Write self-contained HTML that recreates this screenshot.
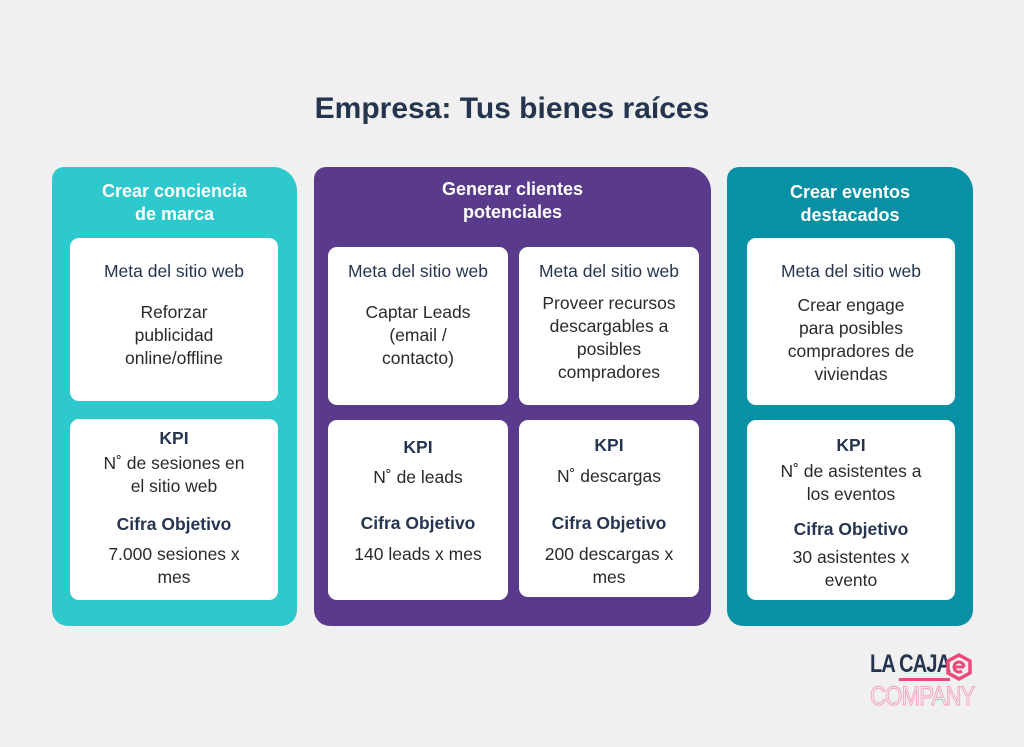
<!DOCTYPE html>
<html><head><meta charset="utf-8"><style>
*{margin:0;padding:0;box-sizing:border-box}
body{width:1024px;height:747px;background:#f0f0f0;position:relative;overflow:hidden;font-family:"Liberation Sans",sans-serif;color:#253550}
.p{position:absolute;top:167px;height:459px;border-radius:12px 24px 16px 16px}
.b{position:absolute;background:#fff;border-radius:9px}
.t{position:absolute;text-align:center;font-size:17.5px;line-height:23px;color:#2a2a2a;white-space:nowrap}
.h{font-weight:bold;color:#253550}
.w{color:#fff;font-weight:bold;font-size:18px}
</style></head><body>
<div class="t h" style="left:0;width:1024px;top:90px;font-size:30px;line-height:38px">Empresa: Tus bienes raíces</div>

<div class="p" style="left:52px;width:245px;background:#2ec9cc"></div>
<div class="p" style="left:314px;width:397px;background:#5a3a8b"></div>
<div class="p" style="left:727px;width:246px;background:#0891a4"></div>

<div class="t w" style="left:52px;width:245px;top:180px">Crear conciencia<br>de marca</div>
<div class="t w" style="left:314px;width:397px;top:178px">Generar clientes<br>potenciales</div>
<div class="t w" style="left:727px;width:246px;top:181px">Crear eventos<br>destacados</div>

<div class="b" style="left:70px;top:238px;width:208px;height:163px"></div>
<div class="b" style="left:70px;top:419px;width:208px;height:181px"></div>
<div class="b" style="left:328px;top:247px;width:180px;height:158px"></div>
<div class="b" style="left:519px;top:247px;width:180px;height:158px"></div>
<div class="b" style="left:328px;top:420px;width:180px;height:180px"></div>
<div class="b" style="left:519px;top:420px;width:180px;height:177px"></div>
<div class="b" style="left:747px;top:238px;width:208px;height:167px"></div>
<div class="b" style="left:747px;top:420px;width:208px;height:180px"></div>

<div class="t h" style="left:70px;width:208px;top:260px;font-weight:normal">Meta del sitio web</div>
<div class="t" style="left:70px;width:208px;top:301px">Reforzar<br>publicidad<br>online/offline</div>
<div class="t h" style="left:70px;width:208px;top:427px">KPI</div>
<div class="t" style="left:70px;width:208px;top:452px">N˚ de sesiones en<br>el sitio web</div>
<div class="t h" style="left:70px;width:208px;top:513px">Cifra Objetivo</div>
<div class="t" style="left:70px;width:208px;top:543px">7.000 sesiones x<br>mes</div>

<div class="t h" style="left:328px;width:180px;top:260px;font-weight:normal">Meta del sitio web</div>
<div class="t" style="left:328px;width:180px;top:301px">Captar Leads<br>(email /<br>contacto)</div>
<div class="t h" style="left:328px;width:180px;top:436px">KPI</div>
<div class="t" style="left:328px;width:180px;top:466px">N˚ de leads</div>
<div class="t h" style="left:328px;width:180px;top:512px">Cifra Objetivo</div>
<div class="t" style="left:328px;width:180px;top:543px">140 leads x mes</div>

<div class="t h" style="left:519px;width:180px;top:260px;font-weight:normal">Meta del sitio web</div>
<div class="t" style="left:519px;width:180px;top:292px">Proveer recursos<br>descargables a<br>posibles<br>compradores</div>
<div class="t h" style="left:519px;width:180px;top:434px">KPI</div>
<div class="t" style="left:519px;width:180px;top:465px">N˚ descargas</div>
<div class="t h" style="left:519px;width:180px;top:512px">Cifra Objetivo</div>
<div class="t" style="left:519px;width:180px;top:543px">200 descargas x<br>mes</div>

<div class="t h" style="left:747px;width:208px;top:260px;font-weight:normal">Meta del sitio web</div>
<div class="t" style="left:747px;width:208px;top:294px">Crear engage<br>para posibles<br>compradores de<br>viviendas</div>
<div class="t h" style="left:747px;width:208px;top:434px">KPI</div>
<div class="t" style="left:747px;width:208px;top:460px">N˚ de asistentes a<br>los eventos</div>
<div class="t h" style="left:747px;width:208px;top:518px">Cifra Objetivo</div>
<div class="t" style="left:747px;width:208px;top:546px">30 asistentes x<br>evento</div>

<div style="position:absolute;left:870px;top:651px;font-weight:bold;font-size:25px;line-height:26px;color:#253550;letter-spacing:-1px;transform:scaleX(0.8);transform-origin:left">LA <span style="border-bottom:3px solid #ec4a7a">CAJA</span></div>
<svg style="position:absolute;left:946px;top:653px" width="26" height="28" viewBox="0 0 26 28"><polygon points="13,2 24,8 24,20 13,26 2,20 2,8" fill="none" stroke="#ec4a7a" stroke-width="3.5"/><path d="M8,14 H18 M18,14 A5,5 0 1 0 16,18" fill="none" stroke="#ec4a7a" stroke-width="3"/></svg>
<div style="position:absolute;left:870px;top:682px;font-size:27px;line-height:28px;color:#f0f0f0;-webkit-text-stroke:1px #f4a0b8;transform:scaleX(0.82);transform-origin:left;letter-spacing:-1px">COMPANY</div>
</body></html>
